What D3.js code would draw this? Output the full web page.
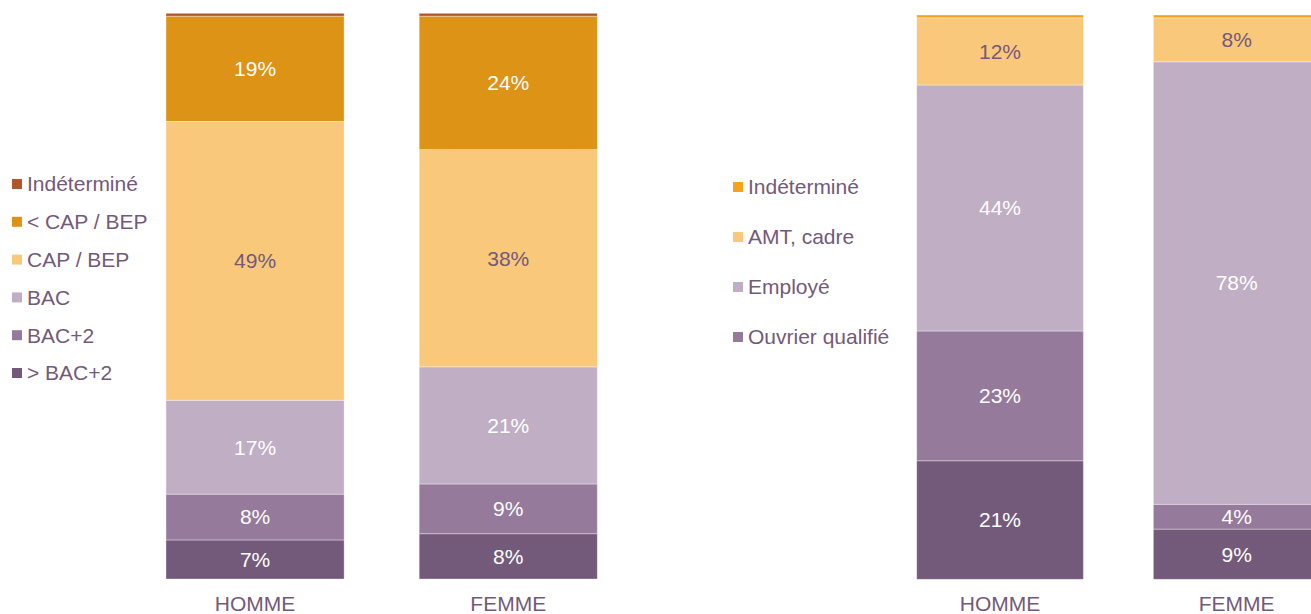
<!DOCTYPE html>
<html>
<head>
<meta charset="utf-8">
<script src="https://cdn.jsdelivr.net/npm/d3@7"></script>
<style>
  html, body { margin: 0; padding: 0; background: #fff; }
  svg { display: block; font-family: Arial, "Liberation Sans", sans-serif; }
</style>
</head>
<body>
<svg id="chart" width="1311" height="614"></svg>
<script>
// ---- Data ----
const categories = ["HOMME", "FEMME"];

// Left panel: diploma level (bottom to top)
const eduSeries = ["> BAC+2", "BAC+2", "BAC", "CAP / BEP", "< CAP / BEP", "Indéterminé"];
const eduHomme = [6.9, 8.1, 16.6, 49.3, 18.6, 0.5];
const eduFemme = [8.0, 8.8, 20.7, 38.4, 23.6, 0.5];
const eduLegend = ["Indéterminé", "< CAP / BEP", "CAP / BEP", "BAC", "BAC+2", "> BAC+2"];

// Right panel: socio-professional category (bottom to top)
const cspSeries = ["Ouvrier non qualifié", "Ouvrier qualifié", "Employé", "AMT, cadre", "Indéterminé"];
const cspHomme = [21.0, 23.0, 43.6, 11.9, 0.5];
const cspFemme = [8.9, 4.4, 78.4, 7.8, 0.5];
const cspLegend = ["Indéterminé", "AMT, cadre", "Employé", "Ouvrier qualifié"];

// ---- Styles ----
const eduColors = {
  "> BAC+2": "#735A7A", "BAC+2": "#967A9B", "BAC": "#C0AEC5",
  "CAP / BEP": "#FAC87A", "< CAP / BEP": "#DC9316", "Indéterminé": "#B0562B"
};
const cspColors = {
  "Ouvrier non qualifié": "#735A7A", "Ouvrier qualifié": "#967A9B", "Employé": "#C0AEC5",
  "AMT, cadre": "#FAC87A", "Indéterminé": "#F5A31F"
};
const textPurple = "#735A7A";
const fontSize = 21;

const svg = d3.select("#chart");

function buildRows(seriesNames, values) {
  return categories.map((c, i) => {
    const row = { cat: c };
    seriesNames.forEach((s, j) => row[s] = values[i][j]);
    return row;
  });
}

function drawPanel(opts) {
  const { seriesNames, values, colors, xRange, yRange, padInner, legendItems, legendX, legendY0, legendStep } = opts;
  const rows = buildRows(seriesNames, values);
  const stack = d3.stack().keys(seriesNames)(rows);

  const x = d3.scaleBand().domain(categories).range(xRange).paddingInner(padInner).paddingOuter(0);
  const y = d3.scaleLinear().domain([0, 100]).range(yRange);

  const g = svg.append("g");

  const layers = g.selectAll("g.layer").data(stack).join("g").attr("class", "layer")
    .attr("fill", d => colors[d.key]);

  layers.selectAll("rect").data(d => d.map(p => Object.assign(p, { key: d.key })))
    .join("rect")
    .attr("x", d => x(d.data.cat))
    .attr("width", x.bandwidth())
    .attr("y", d => y(d[1]))
    .attr("height", d => y(d[0]) - y(d[1]))
    .attr("stroke", "#fff")
    .attr("stroke-opacity", 0.45)
    .attr("stroke-width", 0.8);

  // value labels
  layers.selectAll("text").data(d => d.filter(p => (p[1] - p[0]) >= 2))
    .join("text")
    .attr("x", d => x(d.data.cat) + x.bandwidth() / 2)
    .attr("y", d => (y(d[0]) + y(d[1])) / 2)
    .attr("dy", "0.35em")
    .attr("text-anchor", "middle")
    .attr("font-size", fontSize)
    .attr("fill", d => d.key === "CAP / BEP" || d.key === "AMT, cadre" ? textPurple : "#fff")
    .text(d => d3.format(".0f")(d[1] - d[0]) + "%");

  // category axis labels
  const axis = d3.axisBottom(x).tickSize(0).tickPadding(0);
  const ax = g.append("g").attr("transform", `translate(0,${yRange[0] + 17})`).call(axis);
  ax.select(".domain").remove();
  ax.selectAll("text").attr("font-size", fontSize).attr("fill", textPurple)
    .attr("font-family", "Arial, 'Liberation Sans', sans-serif");

  // legend
  const lg = g.append("g");
  const items = lg.selectAll("g").data(legendItems).join("g")
    .attr("transform", (d, i) => `translate(${legendX},${legendY0 + i * legendStep})`);
  items.append("rect").attr("x", 0).attr("y", -5).attr("width", 10).attr("height", 10)
    .attr("fill", d => colors[d]);
  items.append("text").attr("x", 15).attr("y", 0).attr("dy", "0.35em")
    .attr("font-size", fontSize).attr("fill", textPurple).text(d => d);
}

drawPanel({
  seriesNames: eduSeries,
  values: [eduHomme, eduFemme],
  colors: eduColors,
  xRange: [166, 597.3],
  yRange: [579, 13.3],
  padInner: 75 / 253,
  legendItems: eduLegend,
  legendX: 12, legendY0: 184, legendStep: 37.8
});

drawPanel({
  seriesNames: cspSeries,
  values: [cspHomme, cspFemme],
  colors: cspColors,
  xRange: [916.7, 1320],
  yRange: [579.3, 15],
  padInner: 70 / 236.7,
  legendItems: cspLegend,
  legendX: 733, legendY0: 187, legendStep: 50
});
</script>
</body>
</html>
